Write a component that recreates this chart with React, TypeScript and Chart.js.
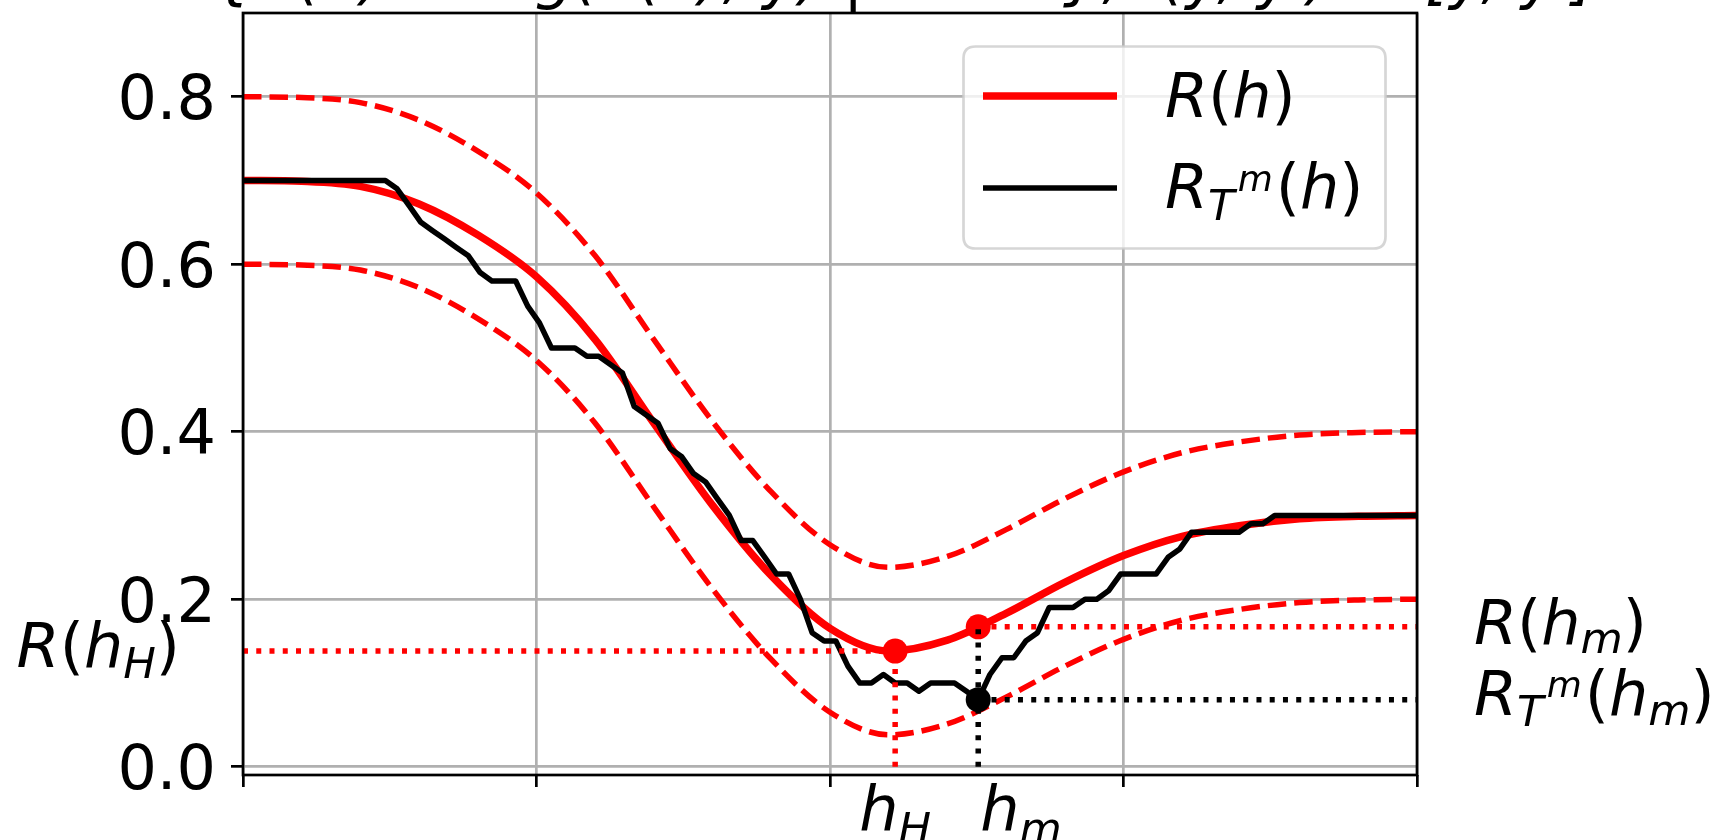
import React, { useEffect, useRef } from 'react';
import { Chart, registerables } from 'chart.js';

Chart.register(...registerables);

const FONT = '"DejaVu Sans", sans-serif';
const FS = 62;

// ---------------- data ----------------
const X_TICKS = [0, 1, 2, 3, 4];
const Y_TICKS = [0, 0.2, 0.4, 0.6, 0.8];
const Y_TICK_LABELS = ['0.0', '0.2', '0.4', '0.6', '0.8'];

const H_GRID = [0, 0.2, 0.4, 0.6, 0.8, 1.0, 1.2, 1.4, 1.6, 1.8, 2.0, 2.2, 2.4, 2.6, 2.8, 3.0, 3.2, 3.4, 3.6, 3.8, 4.0];
const R_VALUES = [0.700, 0.699, 0.693, 0.672, 0.635, 0.585, 0.510, 0.410, 0.312, 0.228, 0.165, 0.138, 0.151, 0.183, 0.220, 0.252, 0.275, 0.288, 0.296, 0.299, 0.300];
const R_UPPER = [0.800, 0.799, 0.793, 0.772, 0.735, 0.685, 0.610, 0.510, 0.412, 0.328, 0.265, 0.238, 0.251, 0.283, 0.320, 0.352, 0.375, 0.388, 0.396, 0.399, 0.400];
const R_LOWER = [0.600, 0.599, 0.593, 0.572, 0.535, 0.485, 0.410, 0.310, 0.212, 0.128, 0.065, 0.038, 0.051, 0.083, 0.120, 0.152, 0.175, 0.188, 0.196, 0.199, 0.200];

const RT_X = [0, 0.485, 0.525, 0.566, 0.606, 0.646, 0.687, 0.727, 0.768, 0.808, 0.848, 0.929, 0.970, 1.010, 1.051, 1.131, 1.172, 1.212, 1.253, 1.293, 1.333, 1.374, 1.414, 1.455, 1.495, 1.535, 1.576, 1.616, 1.657, 1.697, 1.737, 1.778, 1.818, 1.859, 1.899, 1.939, 1.980, 2.020, 2.061, 2.101, 2.141, 2.182, 2.222, 2.263, 2.303, 2.343, 2.424, 2.465, 2.505, 2.545, 2.586, 2.626, 2.667, 2.707, 2.747, 2.828, 2.869, 2.909, 2.949, 2.990, 3.111, 3.152, 3.192, 3.232, 3.394, 3.434, 3.475, 3.515, 4.0];
const RT_Y = [0.70, 0.70, 0.69, 0.67, 0.65, 0.64, 0.63, 0.62, 0.61, 0.59, 0.58, 0.58, 0.55, 0.53, 0.50, 0.50, 0.49, 0.49, 0.48, 0.47, 0.43, 0.42, 0.41, 0.38, 0.37, 0.35, 0.34, 0.32, 0.30, 0.27, 0.27, 0.25, 0.23, 0.23, 0.20, 0.16, 0.15, 0.15, 0.12, 0.10, 0.10, 0.11, 0.10, 0.10, 0.09, 0.10, 0.10, 0.09, 0.08, 0.11, 0.13, 0.13, 0.15, 0.16, 0.19, 0.19, 0.20, 0.20, 0.21, 0.23, 0.23, 0.25, 0.26, 0.28, 0.28, 0.29, 0.29, 0.30, 0.30];

const X_MIN = 0;
const X_MAX = 4;
const Y_MIN = -0.01;
const Y_MAX = 0.9;

const H_H = 2.222;
const H_M = 2.505;
const R_HH = 0.138;
const R_HM = 0.167;
const RT_HM = 0.08;

const TITLE = '{R(h) = E g(h(x), y) | h ∈ H},  (y, y′) ∈ [y, y′]';

// ---------------- styles ----------------
const LW_SOLID = 7.5;
const LW_THIN = 5.5;
const LW_AXIS = 2.7;
const DASHED = [18.5, 8];
const DOTTED = [5, 8.25];
const MARKER_R = 12.5;

// ---------------- text helpers ----------------
type Seg = { t: string; it?: boolean; s?: number; dy?: number; gap?: number };

const SUP_M: Seg = { t: 'm', it: true, s: 0.58, dy: -0.28, gap: 0.05 };
const LBL_R_HH: Seg[] = [{ t: 'R', it: true }, { t: '(' }, { t: 'h', it: true }, { t: 'H', it: true, s: 0.7, dy: 0.18 }, { t: ')' }];
const LBL_R_HM: Seg[] = [{ t: 'R', it: true }, { t: '(' }, { t: 'h', it: true }, { t: 'm', it: true, s: 0.7, dy: 0.15 }, { t: ')' }];
const LBL_RT_HM: Seg[] = [{ t: 'R', it: true }, { t: 'T', it: true, s: 0.7, dy: 0.19 }, SUP_M, { t: '(', gap: 0.05 }, { t: 'h', it: true }, { t: 'm', it: true, s: 0.7, dy: 0.16 }, { t: ')' }];
const LEG_R: Seg[] = [{ t: 'R', it: true }, { t: '(' }, { t: 'h', it: true }, { t: ')' }];
const LEG_RT: Seg[] = [{ t: 'R', it: true }, { t: 'T', it: true, s: 0.7, dy: 0.19 }, SUP_M, { t: '(', gap: 0.05 }, { t: 'h', it: true }, { t: ')' }];
const LBL_HH: Seg[] = [{ t: 'h', it: true }, { t: 'H', it: true, s: 0.7, dy: 0.21 }];
const LBL_HM: Seg[] = [{ t: 'h', it: true }, { t: 'm', it: true, s: 0.7, dy: 0.21 }];

function mathText(ctx: CanvasRenderingContext2D, segs: Seg[], x: number, y: number, size: number, align: 'left' | 'right' | 'center') {
  const font = (sg: Seg) => `${sg.it ? 'italic ' : ''}${(size * (sg.s ?? 1)).toFixed(1)}px ${FONT}`;
  let w = 0;
  for (const sg of segs) {
    ctx.font = font(sg);
    w += ctx.measureText(sg.t).width + (sg.gap ?? 0) * size;
  }
  let cx = align === 'left' ? x : align === 'right' ? x - w : x - w / 2;
  ctx.textAlign = 'left';
  ctx.textBaseline = 'alphabetic';
  for (const sg of segs) {
    ctx.font = font(sg);
    cx += (sg.gap ?? 0) * size;
    ctx.fillText(sg.t, cx, y + (sg.dy ?? 0) * size);
    cx += ctx.measureText(sg.t).width;
  }
}

function roundRect(ctx: CanvasRenderingContext2D, x: number, y: number, w: number, h: number, r: number) {
  ctx.beginPath();
  ctx.moveTo(x + r, y);
  ctx.lineTo(x + w - r, y);
  ctx.quadraticCurveTo(x + w, y, x + w, y + r);
  ctx.lineTo(x + w, y + h - r);
  ctx.quadraticCurveTo(x + w, y + h, x + w - r, y + h);
  ctx.lineTo(x + r, y + h);
  ctx.quadraticCurveTo(x, y + h, x, y + h - r);
  ctx.lineTo(x, y + r);
  ctx.quadraticCurveTo(x, y, x + r, y);
  ctx.closePath();
}

const overlayPlugin = {
  id: 'overlay',
  afterDatasetsDraw(chart: any) {
    const ctx: CanvasRenderingContext2D = chart.ctx;
    const { left, right, top, bottom } = chart.chartArea;
    const xs = chart.scales.x;
    const ys = chart.scales.y;
    ctx.save();
    // frame (spines)
    ctx.strokeStyle = '#000';
    ctx.lineWidth = LW_AXIS;
    ctx.strokeRect(left, top, right - left, bottom - top);

    ctx.fillStyle = '#000';
    // y tick labels
    ctx.font = `${FS}px ${FONT}`;
    ctx.textAlign = 'right';
    ctx.textBaseline = 'alphabetic';
    Y_TICKS.forEach((v, i) => {
      ctx.fillText(Y_TICK_LABELS[i], left - 27, ys.getPixelForValue(v) + FS * 0.365);
    });

    // annotations
    mathText(ctx, LBL_R_HH, left - 63, ys.getPixelForValue(R_HH) + 16, FS, 'right');
    mathText(ctx, LBL_R_HM, right + 57, ys.getPixelForValue(R_HM) + 17, FS, 'left');
    mathText(ctx, LBL_RT_HM, right + 57, ys.getPixelForValue(RT_HM) + 15, FS, 'left');
    mathText(ctx, LBL_HH, xs.getPixelForValue(H_H), bottom + 55, FS, 'center');
    mathText(ctx, LBL_HM, xs.getPixelForValue(H_M) + 2, bottom + 55, FS, 'left');

    // clipped title
    ctx.font = `italic ${FS}px ${FONT}`;
    ctx.textAlign = 'center';
    ctx.fillText(TITLE, 905, -3);

    // legend
    const lx = 963.5, ly = 46.5, lw = 422, lh = 202;
    roundRect(ctx, lx, ly, lw, lh, 12);
    ctx.fillStyle = 'rgba(255,255,255,0.8)';
    ctx.fill();
    ctx.strokeStyle = 'rgba(204,204,204,0.8)';
    ctx.lineWidth = LW_AXIS;
    ctx.stroke();
    ctx.lineCap = 'butt';
    ctx.beginPath();
    ctx.strokeStyle = '#ff0000';
    ctx.lineWidth = LW_SOLID;
    ctx.moveTo(983, 96);
    ctx.lineTo(1117, 96);
    ctx.stroke();
    ctx.beginPath();
    ctx.strokeStyle = '#000';
    ctx.lineWidth = LW_THIN;
    ctx.moveTo(983, 188);
    ctx.lineTo(1117, 188);
    ctx.stroke();
    ctx.fillStyle = '#000';
    mathText(ctx, LEG_R, 1165, 117, FS, 'left');
    mathText(ctx, LEG_RT, 1165, 208, FS, 'left');
    ctx.restore();
  },
};

const pts = (xs: number[], ys: number[]) => xs.map((x, i) => ({ x, y: ys[i] }));

export default function App() {
  const ref = useRef<HTMLCanvasElement>(null);
  useEffect(() => {
    document.body.style.margin = '0';
    const canvas = ref.current!;
    const line = (data: any[], color: string, width: number, order: number, dash: number[] = [], extra: any = {}) => ({
      type: 'line',
      data,
      borderColor: color,
      backgroundColor: color,
      borderWidth: width,
      borderDash: dash,
      borderCapStyle: 'butt',
      borderJoinStyle: 'round',
      pointRadius: 0,
      fill: false,
      tension: 0,
      order,
      ...extra,
    });
    const chart = new Chart(canvas, {
      type: 'line',
      data: {
        datasets: [
          line(pts(H_GRID, R_UPPER), '#ff0000', LW_THIN, 10, DASHED, { cubicInterpolationMode: 'monotone' }),
          line(pts(H_GRID, R_LOWER), '#ff0000', LW_THIN, 10, DASHED, { cubicInterpolationMode: 'monotone' }),
          line(pts(H_GRID, R_VALUES), '#ff0000', LW_SOLID, 9, [], { cubicInterpolationMode: 'monotone', label: 'R(h)' }),
          line(pts(RT_X, RT_Y), '#000000', LW_THIN, 8, [], { label: 'R_T^m(h)' }),
          line([{ x: X_MIN, y: R_HH }, { x: H_H, y: R_HH }], '#ff0000', LW_THIN, 7, DOTTED),
          line([{ x: H_H, y: 0 }, { x: H_H, y: R_HH }], '#ff0000', LW_THIN, 7, DOTTED),
          line([{ x: H_M, y: R_HM }, { x: X_MAX, y: R_HM }], '#ff0000', LW_THIN, 7, DOTTED),
          {
            type: 'line',
            data: [{ x: H_H, y: R_HH }, { x: H_M, y: R_HM }],
            showLine: false,
            pointRadius: MARKER_R,
            pointBorderWidth: 0,
            pointBackgroundColor: '#ff0000',
            borderColor: '#ff0000',
            order: 6,
          },
          line([{ x: H_M, y: 0 }, { x: H_M, y: R_HM }], '#000000', LW_THIN, 5, DOTTED),
          line([{ x: H_M, y: RT_HM }, { x: X_MAX, y: RT_HM }], '#000000', LW_THIN, 5, DOTTED),
          {
            type: 'line',
            data: [{ x: H_M, y: RT_HM }],
            showLine: false,
            pointRadius: MARKER_R,
            pointBorderWidth: 0,
            pointBackgroundColor: '#000000',
            borderColor: '#000000',
            order: 4,
          },
        ] as any,
      },
      options: {
        responsive: false,
        animation: false,
        devicePixelRatio: 1,
        layout: { padding: { left: 0, right: 301, top: 13, bottom: 0 } },
        plugins: { legend: { display: false }, tooltip: { enabled: false }, title: { display: false } },
        scales: {
          x: {
            type: 'linear',
            min: X_MIN,
            max: X_MAX,
            afterBuildTicks: (s: any) => {
              s.ticks = X_TICKS.map((v) => ({ value: v }));
            },
            afterFit: (s: any) => {
              s.height = 65;
            },
            ticks: { display: false },
            grid: { color: '#b0b0b0', lineWidth: LW_AXIS, drawTicks: true, tickLength: 12, tickColor: '#000', tickWidth: LW_AXIS },
            border: { display: false },
          },
          y: {
            type: 'linear',
            min: Y_MIN,
            max: Y_MAX,
            afterBuildTicks: (s: any) => {
              s.ticks = Y_TICKS.map((v) => ({ value: v }));
            },
            afterFit: (s: any) => {
              s.width = 243;
            },
            ticks: { display: false },
            grid: { color: '#b0b0b0', lineWidth: LW_AXIS, drawTicks: true, tickLength: 12, tickColor: '#000', tickWidth: LW_AXIS },
            border: { display: false },
          },
        },
      } as any,
      plugins: [overlayPlugin],
    });
    return () => chart.destroy();
  }, []);
  return <canvas ref={ref} width={1718} height={840} style={{ display: 'block', width: 1718, height: 840 }} />;
}
